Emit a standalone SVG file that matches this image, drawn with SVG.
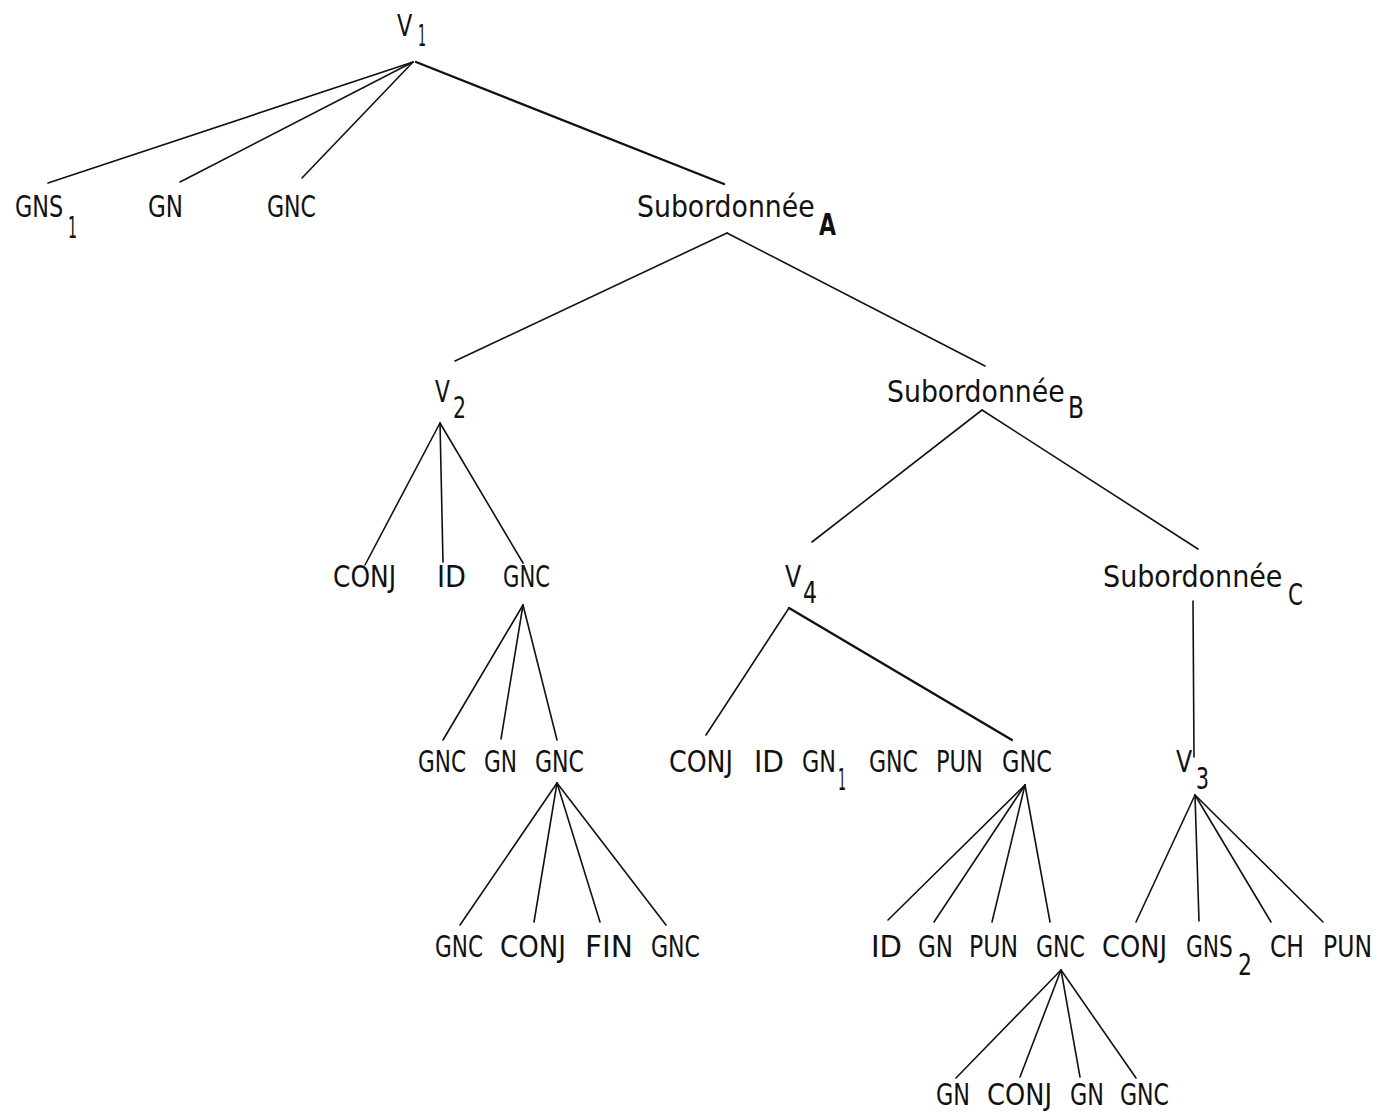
<svg xmlns="http://www.w3.org/2000/svg" width="1379" height="1113" viewBox="0 0 1379 1113">
<style>
.t{font-family:"DejaVu Sans Condensed","Liberation Sans Narrow","Liberation Sans",sans-serif;font-size:31px;fill:#111}
.b{font-weight:bold}
.l{stroke:#111;stroke-width:1.6;fill:none;stroke-linecap:round}
.k{stroke-width:2.4}
</style>
<rect width="1379" height="1113" fill="#fff"/>
<g id="connectors">
<line class="l" x1="413" y1="62" x2="48" y2="183"/>
<line class="l" x1="413" y1="62" x2="180" y2="182"/>
<line class="l" x1="413" y1="62" x2="302" y2="178"/>
<line class="l k" x1="416" y1="62" x2="724" y2="184"/>
<line class="l" x1="727" y1="233" x2="455" y2="361"/>
<line class="l" x1="727" y1="233" x2="985" y2="366"/>
<line class="l" x1="982" y1="410" x2="812" y2="542"/>
<line class="l" x1="982" y1="410" x2="1198" y2="549"/>
<line class="l" x1="440" y1="423" x2="365" y2="565"/>
<line class="l" x1="440" y1="423" x2="443" y2="562"/>
<line class="l" x1="440" y1="423" x2="523" y2="563"/>
<line class="l" x1="523" y1="605" x2="443" y2="740"/>
<line class="l" x1="523" y1="605" x2="501" y2="739"/>
<line class="l" x1="523" y1="605" x2="557" y2="740"/>
<line class="l" x1="557" y1="783" x2="460" y2="925"/>
<line class="l" x1="557" y1="783" x2="534" y2="922"/>
<line class="l" x1="557" y1="783" x2="600" y2="922"/>
<line class="l" x1="557" y1="783" x2="666" y2="925"/>
<line class="l" x1="789" y1="608" x2="706" y2="735"/>
<line class="l k" x1="789" y1="608" x2="1012" y2="740"/>
<line class="l" x1="1193" y1="601" x2="1194" y2="757"/>
<line class="l" x1="1025" y1="785" x2="888" y2="920"/>
<line class="l" x1="1025" y1="785" x2="934" y2="922"/>
<line class="l" x1="1025" y1="785" x2="992" y2="922"/>
<line class="l" x1="1025" y1="785" x2="1050" y2="922"/>
<line class="l" x1="1195" y1="795" x2="1136" y2="922"/>
<line class="l" x1="1195" y1="795" x2="1199" y2="921"/>
<line class="l" x1="1195" y1="795" x2="1271" y2="922"/>
<line class="l" x1="1195" y1="795" x2="1323" y2="922"/>
<line class="l" x1="1061" y1="970" x2="956" y2="1078"/>
<line class="l" x1="1061" y1="970" x2="1020" y2="1077"/>
<line class="l" x1="1061" y1="970" x2="1080" y2="1077"/>
<line class="l" x1="1061" y1="970" x2="1136" y2="1078"/>
</g>
<g id="v1"><text class="t" transform="translate(397 36) scale(0.8 1)">V</text><text class="t" x="418" y="46" textLength="8" lengthAdjust="spacingAndGlyphs">1</text></g>
<g id="gns1"><text class="t" transform="translate(15 217) scale(0.8 1)">GNS</text><text class="t" x="68" y="238" textLength="9" lengthAdjust="spacingAndGlyphs">1</text></g>
<g id="gn-a"><text class="t" x="148" y="217" textLength="35" lengthAdjust="spacingAndGlyphs">GN</text></g>
<g id="gnc-a"><text class="t" x="267" y="217" textLength="49" lengthAdjust="spacingAndGlyphs">GNC</text></g>
<g id="subA"><text class="t" transform="translate(637 217) scale(0.93 1)" textLength="191" lengthAdjust="spacingAndGlyphs">Subordonnée</text><text class="t b" x="819" y="235" textLength="17" lengthAdjust="spacingAndGlyphs">A</text></g>
<g id="v2"><text class="t" transform="translate(435 402) scale(0.78 1)">V</text><text class="t" x="453" y="418" textLength="13" lengthAdjust="spacingAndGlyphs">2</text></g>
<g id="subB"><text class="t" transform="translate(887 402) scale(0.93 1)" textLength="191" lengthAdjust="spacingAndGlyphs">Subordonnée</text><text class="t" x="1068" y="418" textLength="16" lengthAdjust="spacingAndGlyphs">B</text></g>
<g id="conj-a"><text class="t" x="333" y="587" textLength="63" lengthAdjust="spacingAndGlyphs">CONJ</text></g>
<g id="id-a"><text class="t" x="437" y="587" textLength="29" lengthAdjust="spacingAndGlyphs">ID</text></g>
<g id="gnc-b"><text class="t" x="503" y="587" textLength="47" lengthAdjust="spacingAndGlyphs">GNC</text></g>
<g id="v4"><text class="t" transform="translate(785 587) scale(0.85 1)">V</text><text class="t" x="803" y="603" textLength="14" lengthAdjust="spacingAndGlyphs">4</text></g>
<g id="subC"><text class="t" transform="translate(1103 587) scale(0.93 1)" textLength="193" lengthAdjust="spacingAndGlyphs">Subordonnée</text><text class="t" x="1288" y="605" textLength="15" lengthAdjust="spacingAndGlyphs">C</text></g>
<g id="gnc-c"><text class="t" x="418" y="772" textLength="48" lengthAdjust="spacingAndGlyphs">GNC</text></g>
<g id="gn-b"><text class="t" x="484" y="772" textLength="33" lengthAdjust="spacingAndGlyphs">GN</text></g>
<g id="gnc-d"><text class="t" x="535" y="772" textLength="49" lengthAdjust="spacingAndGlyphs">GNC</text></g>
<g id="conj-b"><text class="t" x="669" y="772" textLength="64" lengthAdjust="spacingAndGlyphs">CONJ</text></g>
<g id="id-b"><text class="t" x="754" y="772" textLength="30" lengthAdjust="spacingAndGlyphs">ID</text></g>
<g id="gn1"><text class="t" transform="translate(802 772) scale(0.8 1)">GN</text><text class="t" x="838" y="790" textLength="8" lengthAdjust="spacingAndGlyphs">1</text></g>
<g id="gnc-e"><text class="t" x="869" y="772" textLength="49" lengthAdjust="spacingAndGlyphs">GNC</text></g>
<g id="pun-a"><text class="t" x="936" y="772" textLength="47" lengthAdjust="spacingAndGlyphs">PUN</text></g>
<g id="gnc-f"><text class="t" x="1002" y="772" textLength="50" lengthAdjust="spacingAndGlyphs">GNC</text></g>
<g id="v3"><text class="t" transform="translate(1176 772) scale(0.85 1)">V</text><text class="t" x="1196" y="789" textLength="13" lengthAdjust="spacingAndGlyphs">3</text></g>
<g id="gnc-g"><text class="t" x="435" y="957" textLength="48" lengthAdjust="spacingAndGlyphs">GNC</text></g>
<g id="conj-c"><text class="t" x="500" y="957" textLength="66" lengthAdjust="spacingAndGlyphs">CONJ</text></g>
<g id="fin"><text class="t" x="585" y="957" textLength="48" lengthAdjust="spacingAndGlyphs">FIN</text></g>
<g id="gnc-h"><text class="t" x="651" y="957" textLength="49" lengthAdjust="spacingAndGlyphs">GNC</text></g>
<g id="id-c"><text class="t" x="871" y="957" textLength="31" lengthAdjust="spacingAndGlyphs">ID</text></g>
<g id="gn-c"><text class="t" x="918" y="957" textLength="35" lengthAdjust="spacingAndGlyphs">GN</text></g>
<g id="pun-b"><text class="t" x="969" y="957" textLength="49" lengthAdjust="spacingAndGlyphs">PUN</text></g>
<g id="gnc-i"><text class="t" x="1036" y="957" textLength="49" lengthAdjust="spacingAndGlyphs">GNC</text></g>
<g id="conj-d"><text class="t" x="1102" y="957" textLength="65" lengthAdjust="spacingAndGlyphs">CONJ</text></g>
<g id="gns2"><text class="t" transform="translate(1186 957) scale(0.78 1)">GNS</text><text class="t" x="1238" y="975" textLength="14" lengthAdjust="spacingAndGlyphs">2</text></g>
<g id="ch"><text class="t" x="1270" y="957" textLength="34" lengthAdjust="spacingAndGlyphs">CH</text></g>
<g id="pun-c"><text class="t" x="1323" y="957" textLength="49" lengthAdjust="spacingAndGlyphs">PUN</text></g>
<g id="gn-d"><text class="t" x="936" y="1105" textLength="34" lengthAdjust="spacingAndGlyphs">GN</text></g>
<g id="conj-e"><text class="t" x="987" y="1105" textLength="65" lengthAdjust="spacingAndGlyphs">CONJ</text></g>
<g id="gn-e"><text class="t" x="1070" y="1105" textLength="34" lengthAdjust="spacingAndGlyphs">GN</text></g>
<g id="gnc-j"><text class="t" x="1120" y="1105" textLength="49" lengthAdjust="spacingAndGlyphs">GNC</text></g>
</svg>
